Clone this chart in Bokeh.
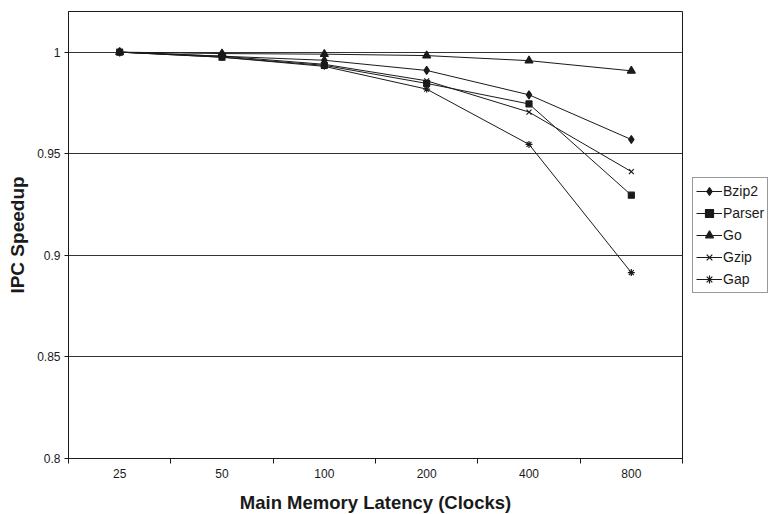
import numpy as np
from bokeh.plotting import figure
from bokeh.models import (Range1d, FixedTicker, CustomJSTickFormatter, Legend, LegendItem)
from bokeh.embed import file_html
from bokeh.resources import INLINE

latency = ["25", "50", "100", "200", "400", "800"]
bzip2 = [1.0, 0.998, 0.996, 0.991, 0.979, 0.957]
parser = [1.0, 0.9975, 0.9935, 0.9846, 0.9745, 0.9296]
go = [1.0, 0.9993, 0.999, 0.9983, 0.9958, 0.9908]
gzip = [1.0, 0.998, 0.994, 0.9859, 0.9705, 0.9412]
gap = [1.0, 0.9975, 0.993, 0.9818, 0.9546, 0.8915]
y_ticks = [0.8, 0.85, 0.9, 0.95, 1.0]

series = [
    ("Bzip2", bzip2, "diamond", 8),
    ("Parser", parser, "square", 6),
    ("Go", go, "triangle", 8),
    ("Gzip", gzip, "x", 7),
    ("Gap", gap, "asterisk", 7),
]

FONT = "Liberation Sans"
INK = "#1a1a1a"

n = len(latency)
xpos = np.arange(n) + 0.5

p = figure(frame_width=614, frame_height=447, output_backend="svg", toolbar_location=None,
           x_range=Range1d(0, n), y_range=Range1d(0.8, 1.02),
           min_border_left=68, min_border_right=0, min_border_top=11,
           min_border_bottom=56)
p.background_fill_color = "white"
p.border_fill_color = "white"
p.outline_line_color = INK
p.outline_line_width = 1

# x axis: labels at category centres, tick marks at boundaries
p.xaxis.ticker = FixedTicker(ticks=list(xpos), minor_ticks=list(range(n + 1)))
p.xaxis.major_label_overrides = {float(x): lab for x, lab in zip(xpos, latency)}
p.xaxis.major_tick_out = 0
p.xaxis.major_tick_in = 0
p.xaxis.minor_tick_out = 5
p.xaxis.minor_tick_in = 0
p.xaxis.minor_tick_line_color = INK
p.xaxis.axis_line_color = INK
p.xaxis.axis_label = "Main Memory Latency (Clocks)"
p.xaxis.axis_label_text_font = FONT
p.xaxis.axis_label_text_font_style = "bold"
p.xaxis.axis_label_text_font_size = "18.5px"
p.xaxis.axis_label_text_color = INK
p.xaxis.axis_label_standoff = 11
p.xaxis.major_label_text_font = FONT
p.xaxis.major_label_text_font_size = "12px"
p.xaxis.major_label_text_color = INK
p.xaxis.major_label_standoff = 5

p.yaxis.ticker = FixedTicker(ticks=y_ticks)
p.yaxis.formatter = CustomJSTickFormatter(code="return String(Math.round(tick*100)/100);")
p.yaxis.major_tick_out = 4
p.yaxis.major_tick_in = 0
p.yaxis.minor_tick_line_color = None
p.yaxis.major_tick_line_color = INK
p.yaxis.axis_line_color = INK
p.yaxis.axis_label = "IPC Speedup"
p.yaxis.axis_label_text_font = FONT
p.yaxis.axis_label_text_font_style = "bold"
p.yaxis.axis_label_text_font_size = "19px"
p.yaxis.axis_label_text_color = INK
p.yaxis.axis_label_standoff = 6
p.yaxis.major_label_text_font = FONT
p.yaxis.major_label_text_font_size = "12px"
p.yaxis.major_label_text_color = INK
p.yaxis.major_label_standoff = 4

p.xgrid.grid_line_color = None
p.ygrid.grid_line_color = "#333333"
p.ygrid.grid_line_width = 1

items = []
for name, vals, marker, size in series:
    ln = p.line(xpos, vals, line_color=INK, line_width=1)
    sc = p.scatter(xpos, vals, marker=marker, size=size, fill_color=INK,
                   line_color=INK, line_width=1.2)
    items.append(LegendItem(label=name, renderers=[ln, sc]))

legend = Legend(items=items, location="center_left")
legend.border_line_color = "#333333"
legend.border_line_width = 1
legend.background_fill_color = "white"
legend.background_fill_alpha = 1
legend.label_text_font = FONT
legend.label_text_font_size = "14px"
legend.label_text_color = INK
legend.glyph_width = 26
legend.glyph_height = 20
legend.label_height = 20
legend.label_width = 40
legend.label_standoff = 1
legend.spacing = 2
legend.padding = 3
legend.margin = 10
p.add_layout(legend, "right")

open("out.html", "w").write(file_html(p, INLINE))
